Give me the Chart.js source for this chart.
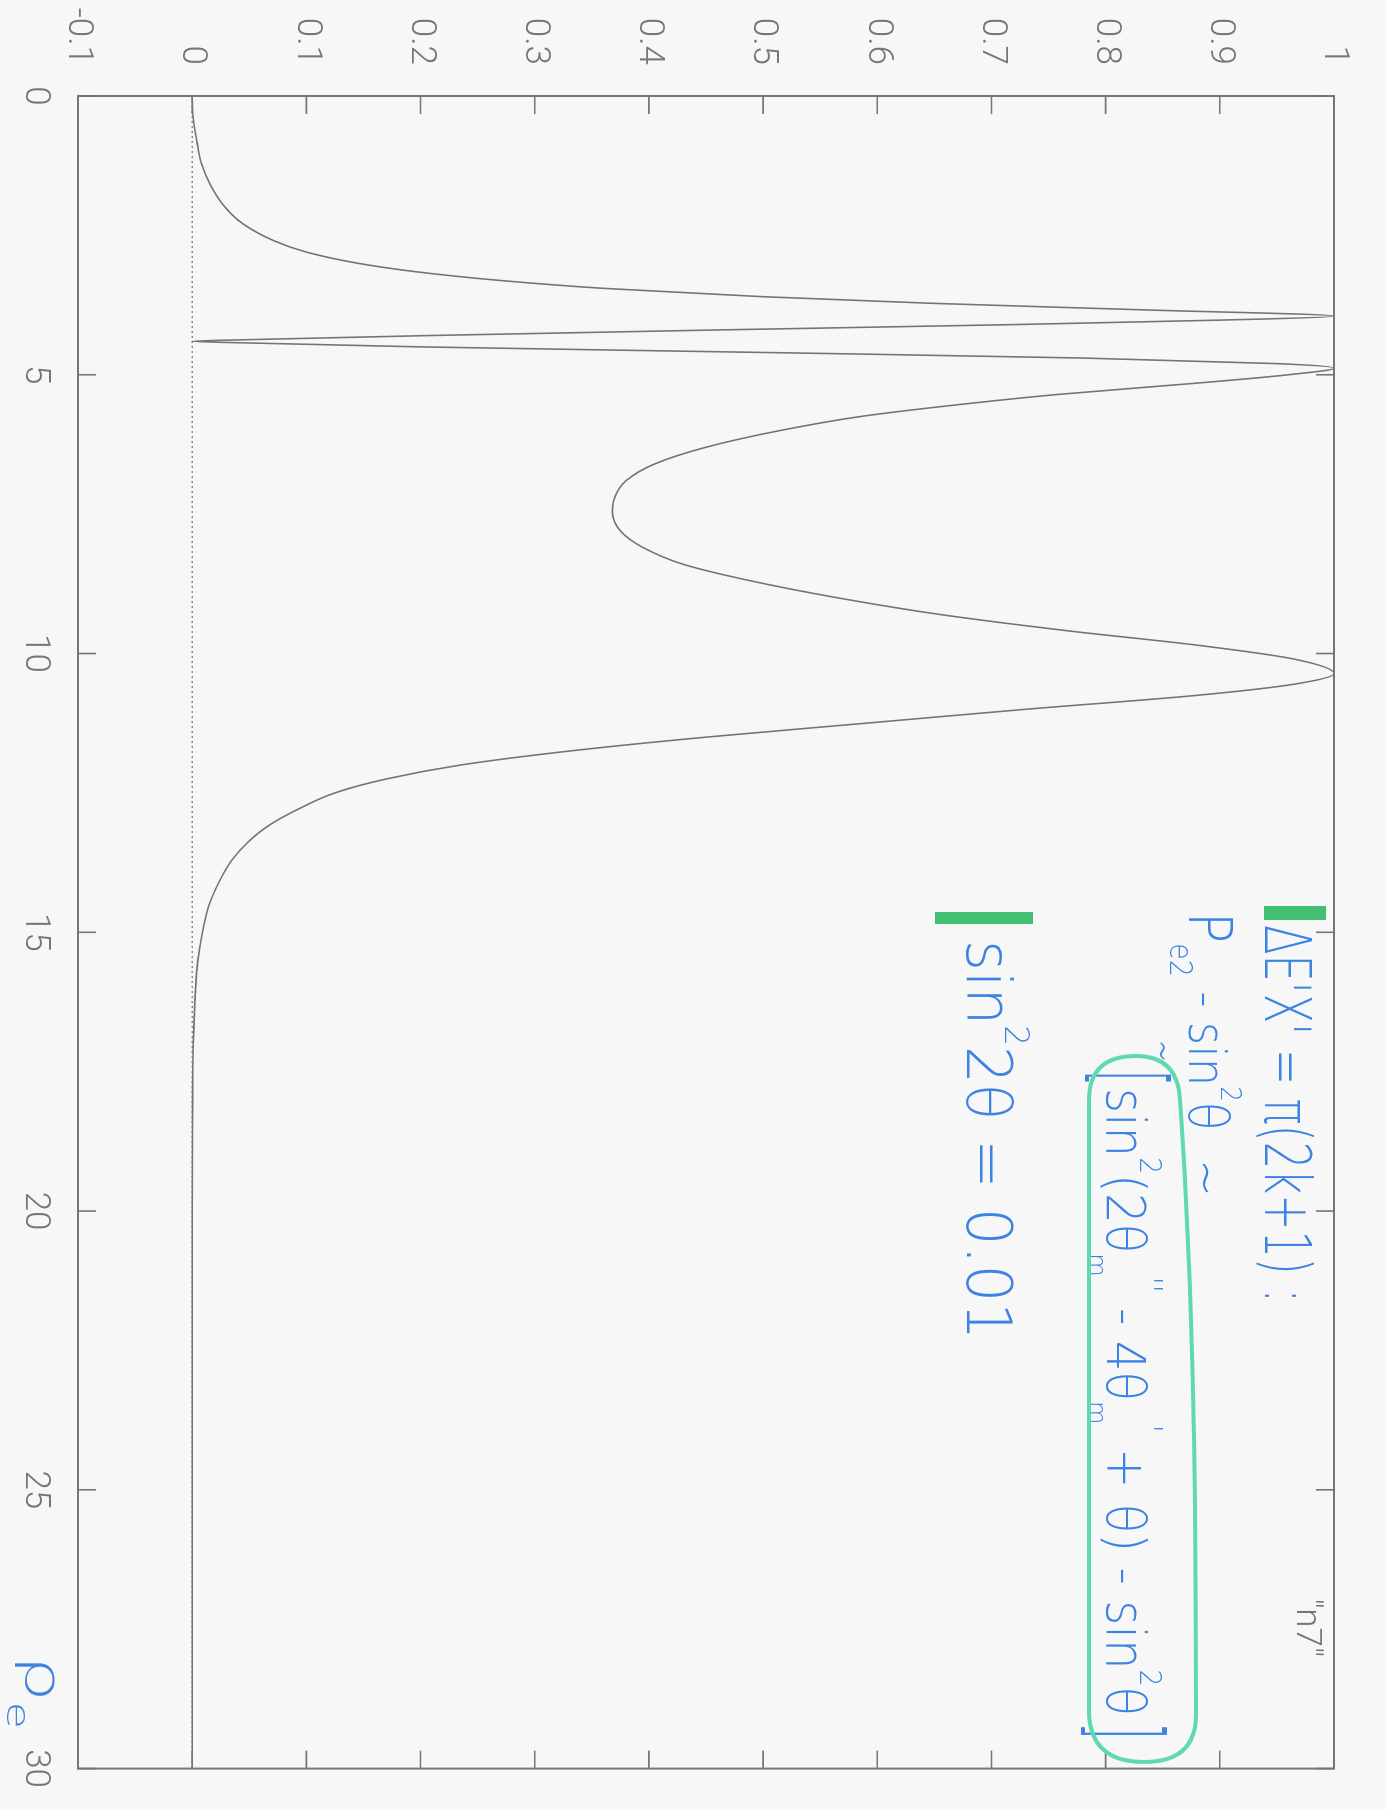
<!DOCTYPE html>
<html>
<head>
<meta charset="utf-8">
<script src="https://cdn.jsdelivr.net/npm/chart.js@4.4.0/dist/chart.umd.min.js"></script>
<style>
  html, body { margin: 0; padding: 0; background: #f7f7f7; overflow: hidden; }
  /* the plot is laid out in landscape and turned a quarter clockwise onto the page */
  #sheet {
    position: absolute; left: 0; top: 0;
    width: 1810px; height: 1386px;
    transform-origin: 0 0;
    transform: translate(1386px, 0) rotate(90deg);
  }
</style>
</head>
<body>
<div id="sheet"><canvas id="plot" width="1810" height="1386"></canvas></div>
<script>
// electron density (x) and conversion probability (y) of the "n7" run
const rho = [0, 0.4, 0.8, 1.2, 1.6, 2.0, 2.3, 2.6, 2.8, 3.0, 3.15, 3.3, 3.45, 3.6, 3.72, 3.84, 3.95,
             4.02, 4.1, 4.2, 4.3, 4.37, 4.40, 4.43, 4.5, 4.6, 4.7, 4.8, 4.88,
             5.0, 5.15, 5.35, 5.55, 5.75, 6.0, 6.3, 6.6, 6.9, 7.2, 7.45, 7.8, 8.1, 8.4, 8.7,
             9.0, 9.3, 9.6, 9.85, 10.1, 10.36, 10.55, 10.75, 11.0, 11.25, 11.5, 11.75, 12.0,
             12.25, 12.5, 12.8, 13.1, 13.4, 13.7, 14.0, 14.5, 15.0, 15.5, 16.0, 17.0, 18.5,
             20, 25, 30];
const prob = [0, 0.001, 0.004, 0.008, 0.016, 0.029, 0.045, 0.072, 0.100, 0.145, 0.195, 0.265, 0.36, 0.50, 0.65, 0.84, 1.0,
              0.90, 0.72, 0.45, 0.20, 0.05, 0.0, 0.05, 0.20, 0.50, 0.78, 0.95, 1.0,
              0.96, 0.88, 0.76, 0.665, 0.585, 0.515, 0.45, 0.405, 0.38, 0.37, 0.368, 0.375, 0.395, 0.43, 0.49,
              0.565, 0.655, 0.77, 0.88, 0.965, 1.0, 0.965, 0.88, 0.73, 0.59, 0.45, 0.33, 0.235,
              0.17, 0.125, 0.092, 0.066, 0.048, 0.035, 0.026, 0.015, 0.009, 0.005, 0.003, 0.001, 0.0003,
              0, 0, 0];
const xTicks = [0, 5, 10, 15, 20, 25, 30];
const yTicks = [-0.1, 0, 0.1, 0.2, 0.3, 0.4, 0.5, 0.6, 0.7, 0.8, 0.9, 1];
const yTickLabels = ['-0.1', '0', '0.1', '0.2', '0.3', '0.4', '0.5', '0.6', '0.7', '0.8', '0.9', '1'];
const seriesName = '"n7"';

const INK = '#767676';
const PEN = '#3d84e2';
const MARKER = '#2fb862';
const LOOP = '#5fdaae';
const TICK_FONT = { family: 'Roboto, "Liberation Sans", sans-serif', size: 35, weight: '300' };
const HAND = '"DejaVu Sans", "Open Sans", sans-serif';

// Write a formula as a row of runs (normal / sup / sub), squeezed to a given width.
function formula(ctx, parts, x, base, size, width, color) {
  ctx.save();
  ctx.fillStyle = color;
  ctx.textBaseline = 'alphabetic';
  ctx.textAlign = 'left';
  const widths = parts.map(([t, f]) => { ctx.font = `200 ${size * f}px ${HAND}`; return ctx.measureText(t).width; });
  const total = widths.reduce((a, b) => a + b, 0);
  ctx.translate(x, base);
  ctx.scale(width / total, 1);
  let cx = 0;
  parts.forEach(([t, f, pos], i) => {
    ctx.font = `200 ${size * f}px ${HAND}`;
    let dy = 0;
    if (pos === 'sup') dy = -size * 0.62;
    if (pos === 'sub') dy = size * 0.36;
    ctx.fillText(t, cx, dy);
    cx += widths[i];
  });
  ctx.restore();
}

const framePlugin = {
  id: 'gnuFrame',
  beforeDatasetsDraw(chart) {
    const { ctx, scales: { x, y } } = chart;
    // dotted zero axis
    ctx.save();
    ctx.strokeStyle = '#8a8a8a';
    ctx.lineWidth = 1.5;
    ctx.setLineDash([2, 3]);
    ctx.beginPath();
    ctx.moveTo(x.getPixelForValue(xTicks[0]), y.getPixelForValue(0));
    ctx.lineTo(x.getPixelForValue(xTicks[xTicks.length - 1]), y.getPixelForValue(0));
    ctx.stroke();
    ctx.restore();
  },
  afterDatasetsDraw(chart) {
    const { ctx, chartArea: a, scales: { x, y } } = chart;
    ctx.save();
    ctx.strokeStyle = INK;
    ctx.lineWidth = 2;
    ctx.strokeRect(a.left, a.top, a.right - a.left, a.bottom - a.top);
    const L = 18;
    ctx.lineWidth = 1.6;
    ctx.beginPath();
    yTicks.forEach(v => {
      const py = y.getPixelForValue(v);
      ctx.moveTo(a.left, py); ctx.lineTo(a.left + L, py);
      ctx.moveTo(a.right, py); ctx.lineTo(a.right - L, py);
    });
    xTicks.forEach(v => {
      const px = x.getPixelForValue(v);
      ctx.moveTo(px, a.bottom); ctx.lineTo(px, a.bottom - L);
      ctx.moveTo(px, a.top); ctx.lineTo(px, a.top + L);
    });
    ctx.stroke();

    // key
    ctx.fillStyle = INK;
    ctx.font = `${TICK_FONT.weight} ${TICK_FONT.size}px ${TICK_FONT.family}`;
    ctx.textAlign = 'right';
    ctx.textBaseline = 'alphabetic';
    ctx.fillText(seriesName, 1657, 89);
    ctx.restore();

    // pen notes
    ctx.save();
    ctx.globalAlpha = 0.9;
    ctx.fillStyle = MARKER;
    ctx.fillRect(906, 60, 14, 62);
    ctx.fillRect(912, 353, 12, 98);
    ctx.restore();

    formula(ctx, [["\u0394E'X' = \u03c0(2k+1) :", 1]], 925, 121, 64, 378, PEN);
    formula(ctx, [['P', 1.15], ['e2', 0.6, 'sub'], [' - sin', 1], ['2', 0.55, 'sup'], ['\u03b8', 1.05], ['  ~', 1]],
            912, 197, 52, 285, PEN);
    formula(ctx, [['~', 1]], 1040, 238, 44, 22, PEN);
    formula(ctx, [['[', 1]], 1070, 288, 96, 16, PEN);
    formula(ctx, [['sin', 1], ['2', 0.55, 'sup'], ['(2\u03b8', 1], ['m', 0.5, 'sub'], ["''", 0.6, 'sup'],
                  [' - 4\u03b8', 1], ['m', 0.5, 'sub'], ["'", 0.6, 'sup'], [' + \u03b8) - sin', 1],
                  ['2', 0.55, 'sup'], ['\u03b8', 1]],
            1088, 279, 54, 628, PEN);
    formula(ctx, [[']', 1]], 1722, 292, 96, 18, PEN);
    formula(ctx, [['sin', 1], ['2', 0.55, 'sup'], ['2\u03b8 = 0.01', 1]], 940, 419, 62, 400, PEN);
    formula(ctx, [['\u03c1', 1], ['e', 0.6, 'sub']], 1655, 1360, 52, 74, PEN);

    // loop drawn round the bracketed term
    ctx.save();
    ctx.strokeStyle = LOOP;
    ctx.lineWidth = 4;
    ctx.beginPath();
    ctx.moveTo(1100, 206);
    ctx.bezierCurveTo(1300, 192, 1500, 190, 1715, 190);
    ctx.quadraticCurveTo(1762, 190, 1762, 242);
    ctx.quadraticCurveTo(1762, 296, 1712, 297);
    ctx.lineTo(1100, 297);
    ctx.quadraticCurveTo(1056, 297, 1056, 250);
    ctx.quadraticCurveTo(1056, 208, 1100, 206);
    ctx.stroke();
    ctx.restore();
  }
};

new Chart(document.getElementById('plot'), {
  type: 'line',
  data: {
    datasets: [{
      label: seriesName,
      data: rho.map((r, i) => ({ x: r, y: prob[i] })),
      borderColor: '#747474',
      borderWidth: 1.6,
      pointRadius: 0,
      cubicInterpolationMode: 'monotone',
      fill: false,
      clip: 4
    }]
  },
  options: {
    responsive: false,
    animation: false,
    devicePixelRatio: 1,
    layout: { padding: { top: 24, right: 27, left: 0, bottom: 0 } },
    plugins: { legend: { display: false }, tooltip: { enabled: false } },
    scales: {
      x: {
        type: 'linear', min: 0, max: 30,
        afterBuildTicks: s => { s.ticks = xTicks.map(v => ({ value: v })); },
        afterFit: s => { s.height = 78; },
        grid: { display: false, drawTicks: false },
        border: { display: false },
        ticks: { color: INK, font: TICK_FONT, padding: 22, maxRotation: 0, callback: v => String(v) }
      },
      y: {
        type: 'linear', min: -0.1, max: 1,
        afterBuildTicks: s => { s.ticks = yTicks.map(v => ({ value: v })); },
        afterFit: s => { s.width = 96; },
        grid: { display: false, drawTicks: false },
        border: { display: false },
        ticks: { color: INK, font: TICK_FONT, padding: 31,
                 callback: (v, i) => yTickLabels[i] }
      }
    }
  },
  plugins: [framePlugin]
});
</script>
</body>
</html>
